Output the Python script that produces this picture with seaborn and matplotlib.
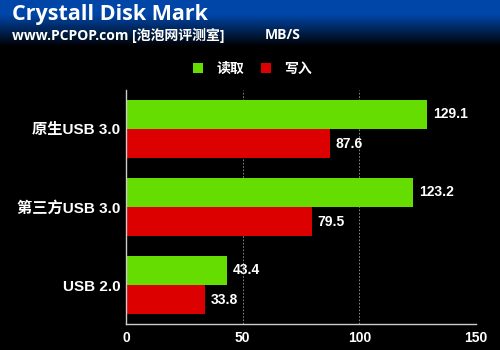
import numpy as np
import pandas as pd
import matplotlib
matplotlib.use('Agg')
import matplotlib.pyplot as plt
import seaborn as sns

categories = ['原生USB 3.0', '第三方USB 3.0', 'USB 2.0']
read_vals = [129.1, 123.2, 43.4]
write_vals = [87.6, 79.5, 33.8]
series = ['读取', '写入']
x_ticks = [0, 50, 100, 150]

sns.set_style('dark')
plt.rcParams['font.family'] = ['Liberation Sans', 'Noto Sans CJK SC', 'DejaVu Sans']
plt.rcParams['axes.unicode_minus'] = False

df = pd.DataFrame({
    '设备': categories * 2,
    '类型': [series[0]] * 3 + [series[1]] * 3,
    '速度': read_vals + write_vals,
})

fig = plt.figure(figsize=(5, 3.5), dpi=100, facecolor='black')

# 背景渐变：顶部蓝色渐变到黑色
bg = fig.add_axes([0, 0, 1, 1], zorder=-10)
h = 350
grad = np.zeros((h, 1, 3))
blue = np.array([0x00, 0x46, 0xa8]) / 255.0
for i in range(h):
    if i < 14:
        t = 1.0
    elif i < 46:
        t = 1 - (i - 14) / 32.0
    else:
        t = 0.0
    grad[i, 0] = blue * t
bg.imshow(grad, aspect='auto', extent=[0, 1, 0, 1])
bg.axis('off')

ax = fig.add_axes([0.252, 0.074, 0.700, 0.669])
ax.set_facecolor((0, 0, 0, 0))

sns.barplot(data=df, y='设备', x='速度', hue='类型', orient='h',
            palette={'读取': '#66dd00', '写入': '#dd0000'},
            width=0.75, ax=ax, saturation=1, linewidth=0, edgecolor='none')

for c in ax.containers:
    ax.bar_label(c, fmt='%.1f', padding=4, color='white',
                 fontweight='bold', fontsize=10)

ax.set_xlim(0, 150)
ax.set_xticks(x_ticks)
ax.set_xticklabels([str(t) for t in x_ticks])
ax.set_ylim(2.5, -0.5)
ax.set_yticks([0.5, 1.5], minor=True)
ax.set_xlabel('')
ax.set_ylabel('')
ax.tick_params(axis='y', which='major', length=0, pad=4,
               labelsize=11, labelcolor='white')
ax.tick_params(axis='y', which='minor', length=3, color='#cccccc', width=1)
ax.tick_params(axis='x', length=3, color='#cccccc', labelsize=10,
               labelcolor='white', pad=2)
for lab in ax.get_yticklabels() + ax.get_xticklabels():
    lab.set_fontweight('bold')

ax.grid(axis='x', color='#999999', linestyle=(0, (2, 2)), linewidth=0.6)
ax.grid(axis='y', visible=False)
for s in ['top', 'right']:
    ax.spines[s].set_visible(False)
for s in ['left', 'bottom']:
    ax.spines[s].set_visible(True)
    ax.spines[s].set_color('#cccccc')
    ax.spines[s].set_linewidth(1)

leg = ax.legend(loc='center', bbox_to_anchor=(0.505, 0.803),
                bbox_transform=fig.transFigure, ncol=2, frameon=False,
                handlelength=0.7, handleheight=0.7, columnspacing=1.2,
                handletextpad=1.0, fontsize=10)
for t in leg.get_texts():
    t.set_color('white')
    t.set_fontweight('bold')

fig.text(0.024, 0.958, 'Crystall Disk Mark', color='white', fontsize=15.5,
         fontweight='bold', family=['Open Sans', 'DejaVu Sans'], va='center')
fig.text(0.024, 0.899, 'www.PCPOP.com [泡泡网评测室]', color='white',
         fontsize=10, fontweight='bold', va='center',
         family=['Open Sans', 'Noto Sans CJK SC', 'DejaVu Sans'])
fig.text(0.53, 0.899, 'MB/S', color='white', fontsize=10,
         fontweight='bold', va='center', family=['Open Sans', 'DejaVu Sans'])

fig.savefig('out.png', dpi=100, facecolor='black')
